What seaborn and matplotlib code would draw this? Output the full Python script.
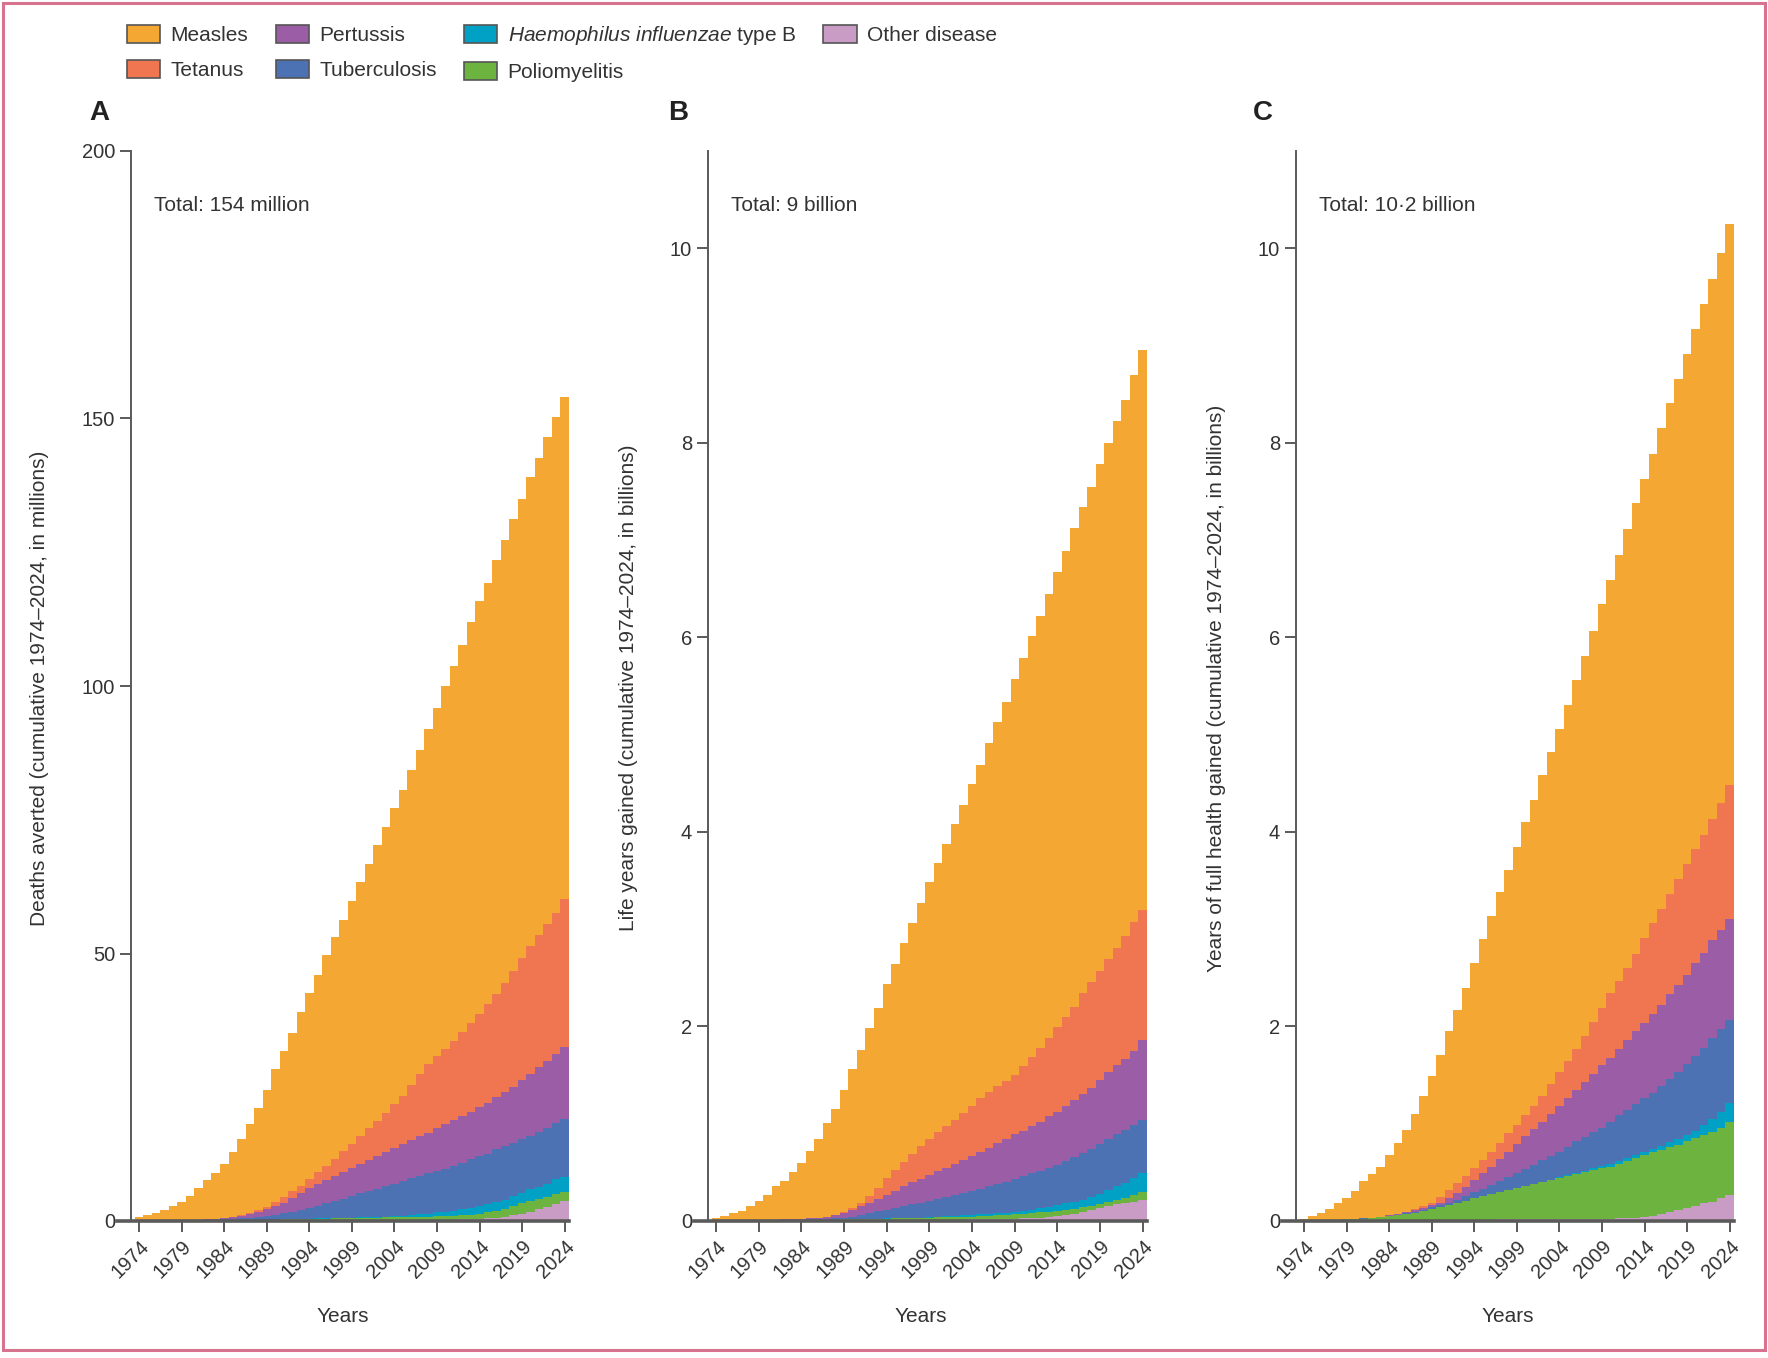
import numpy as np
import pandas as pd
import matplotlib
matplotlib.use("Agg")
import matplotlib.pyplot as plt
from matplotlib.patches import Patch, Rectangle
import seaborn as sns

# ===========================================================
# Data (upper edge of each coloured band,
# bottom band first), years 1974-2024
# ===========================================================

years = list(range(1974, 2025))

diseases = ["Measles", "Tetanus", "Pertussis", "Tuberculosis",
            "Haemophilus influenzae type B", "Poliomyelitis", "Other disease"]
colors = ["#F5A733", "#F07551", "#9B5EA6", "#4C72B3",
          "#00A1C5", "#6CB33F", "#C89CC5"]

# --- A: deaths averted, millions
other_top_a = [0.0, 0.0, 0.0, 0.0, 0.01, 0.01, 0.02, 0.02, 0.03, 0.03,
               0.04, 0.04, 0.05, 0.05, 0.06, 0.06, 0.07, 0.07, 0.08, 0.08,
               0.09, 0.09, 0.1, 0.1, 0.11, 0.11, 0.12, 0.12, 0.13, 0.14,
               0.15, 0.16, 0.17, 0.18, 0.19, 0.2, 0.22, 0.25, 0.3, 0.35,
               0.4, 0.5, 0.6, 0.8, 1.1, 1.4, 1.7, 2.2, 2.7, 3.1,
               3.7]
polio_top_a = [0.0, 0.0, 0.01, 0.02, 0.04, 0.05, 0.06, 0.08, 0.1, 0.12,
               0.14, 0.16, 0.18, 0.2, 0.22, 0.25, 0.28, 0.31, 0.34, 0.37,
               0.4, 0.43, 0.46, 0.49, 0.52, 0.55, 0.58, 0.6, 0.63, 0.66,
               0.69, 0.72, 0.75, 0.78, 0.82, 0.86, 0.9, 0.95, 1.05, 1.2,
               1.4, 1.6, 1.9, 2.3, 2.8, 3.3, 3.7, 4.2, 4.5, 5.0,
               5.5]
hib_top_a = [0.0, 0.0, 0.01, 0.02, 0.04, 0.05, 0.06, 0.08, 0.1, 0.12,
             0.14, 0.16, 0.18, 0.2, 0.22, 0.25, 0.28, 0.31, 0.35, 0.39,
             0.43, 0.47, 0.51, 0.55, 0.59, 0.63, 0.67, 0.71, 0.75, 0.8,
             0.85, 0.95, 1.1, 1.25, 1.4, 1.6, 1.75, 1.95, 2.2, 2.5,
             2.8, 3.2, 3.6, 4.0, 4.7, 5.3, 5.9, 6.4, 6.9, 7.8,
             8.3]
tb_top_a = [0.0, 0.0, 0.03, 0.05, 0.08, 0.1, 0.12, 0.15, 0.2, 0.25,
            0.3, 0.4, 0.5, 0.65, 0.8, 1.0, 1.2, 1.5, 1.7, 2.0,
            2.4, 2.8, 3.3, 3.7, 4.2, 4.7, 5.2, 5.6, 6.0, 6.5,
            7.0, 7.5, 8.0, 8.4, 8.9, 9.3, 9.8, 10.3, 10.9, 11.5,
            12.1, 12.6, 13.4, 14.0, 14.6, 15.3, 15.9, 16.7, 17.4, 18.3,
            19.0]
pert_top_a = [0.0, 0.0, 0.05, 0.1, 0.1, 0.15, 0.2, 0.25, 0.3, 0.4,
              0.55, 0.75, 1.0, 1.3, 1.7, 2.2, 2.8, 3.4, 4.3, 5.2,
              6.1, 6.9, 7.6, 8.4, 9.2, 10.0, 10.7, 11.4, 12.1, 12.9,
              13.6, 14.3, 15.1, 15.9, 16.5, 17.3, 18.1, 18.9, 19.6, 20.4,
              21.4, 22.1, 23.2, 24.1, 25.1, 26.4, 27.4, 28.7, 29.9, 31.2,
              32.5]
tet_top_a = [0.0, 0.0, 0.05, 0.1, 0.1, 0.15, 0.2, 0.25, 0.3, 0.4,
             0.6, 0.8, 1.1, 1.5, 2.0, 2.7, 3.6, 4.5, 5.6, 6.5,
             7.8, 9.2, 10.3, 11.5, 13.1, 14.3, 15.9, 17.3, 18.7, 20.2,
             21.8, 23.4, 25.5, 27.4, 29.3, 30.8, 32.1, 33.6, 35.4, 37.1,
             38.6, 40.5, 42.5, 44.5, 46.8, 49.1, 51.4, 53.4, 55.5, 57.6,
             60.2]
total_a = [0.7, 1.1, 1.5, 2.0, 2.8, 3.6, 4.7, 6.1, 7.6, 9.0,
           10.6, 12.9, 15.3, 18.1, 21.1, 24.5, 28.4, 31.8, 35.2, 39.1,
           42.6, 46.0, 49.7, 53.1, 56.3, 59.9, 63.3, 66.7, 70.2, 73.7,
           77.2, 80.6, 84.3, 88.1, 92.0, 95.8, 100.0, 103.8, 107.7, 111.9,
           115.9, 119.3, 123.5, 127.3, 131.2, 135.0, 139.0, 142.6, 146.5, 150.3,
           154.0]

# --- B: life years gained, billions
other_top_b = [0.0, 0.0, 0.0, 0.0, 0.0, 0.001, 0.001, 0.002, 0.002, 0.003,
               0.003, 0.004, 0.004, 0.005, 0.005, 0.006, 0.006, 0.007, 0.007, 0.008,
               0.008, 0.009, 0.009, 0.01, 0.01, 0.011, 0.012, 0.013, 0.014, 0.015,
               0.016, 0.017, 0.018, 0.019, 0.02, 0.023, 0.026, 0.03, 0.035, 0.04,
               0.05, 0.06, 0.075, 0.09, 0.11, 0.13, 0.15, 0.17, 0.18, 0.2,
               0.22]
polio_top_b = [0.0, 0.0, 0.0, 0.0, 0.0, 0.003, 0.004, 0.005, 0.006, 0.007,
               0.008, 0.009, 0.01, 0.012, 0.014, 0.016, 0.018, 0.02, 0.022, 0.024,
               0.025, 0.027, 0.029, 0.031, 0.033, 0.035, 0.037, 0.039, 0.041, 0.043,
               0.045, 0.05, 0.055, 0.06, 0.065, 0.07, 0.075, 0.08, 0.088, 0.095,
               0.1, 0.11, 0.125, 0.14, 0.155, 0.175, 0.195, 0.215, 0.24, 0.27,
               0.3]
hib_top_b = [0.0, 0.0, 0.0, 0.0, 0.0, 0.003, 0.004, 0.005, 0.006, 0.007,
             0.008, 0.009, 0.01, 0.012, 0.014, 0.016, 0.018, 0.02, 0.022, 0.024,
             0.026, 0.028, 0.03, 0.032, 0.035, 0.04, 0.044, 0.048, 0.052, 0.058,
             0.065, 0.07, 0.075, 0.08, 0.085, 0.095, 0.105, 0.115, 0.13, 0.145,
             0.16, 0.18, 0.2, 0.22, 0.25, 0.28, 0.32, 0.36, 0.39, 0.44,
             0.49]
tb_top_b = [0.0, 0.0, 0.0, 0.0, 0.0, 0.005, 0.005, 0.01, 0.01, 0.01,
            0.015, 0.02, 0.02, 0.025, 0.03, 0.035, 0.045, 0.06, 0.08, 0.1,
            0.11, 0.13, 0.15, 0.17, 0.19, 0.21, 0.23, 0.25, 0.27, 0.29,
            0.31, 0.33, 0.36, 0.38, 0.4, 0.43, 0.46, 0.49, 0.51, 0.55,
            0.58, 0.62, 0.66, 0.7, 0.74, 0.79, 0.84, 0.89, 0.94, 0.99,
            1.04]
pert_top_b = [0.0, 0.0, 0.0, 0.0, 0.0, 0.01, 0.01, 0.01, 0.02, 0.02,
              0.02, 0.03, 0.03, 0.04, 0.06, 0.08, 0.11, 0.15, 0.19, 0.23,
              0.27, 0.31, 0.36, 0.4, 0.43, 0.47, 0.51, 0.55, 0.59, 0.63,
              0.67, 0.71, 0.75, 0.8, 0.84, 0.89, 0.93, 0.98, 1.02, 1.08,
              1.12, 1.18, 1.24, 1.31, 1.37, 1.45, 1.53, 1.6, 1.67, 1.75,
              1.86]
tet_top_b = [0.0, 0.0, 0.0, 0.0, 0.0, 0.01, 0.01, 0.01, 0.02, 0.02,
             0.02, 0.03, 0.03, 0.04, 0.06, 0.09, 0.13, 0.18, 0.26, 0.34,
             0.44, 0.52, 0.61, 0.69, 0.77, 0.84, 0.91, 0.98, 1.04, 1.11,
             1.18, 1.26, 1.33, 1.39, 1.44, 1.5, 1.59, 1.69, 1.78, 1.88,
             1.99, 2.1, 2.2, 2.34, 2.46, 2.57, 2.69, 2.81, 2.93, 3.07,
             3.2]
total_b = [0.03, 0.05, 0.08, 0.1, 0.15, 0.21, 0.27, 0.36, 0.41, 0.5,
           0.6, 0.72, 0.84, 1.01, 1.15, 1.35, 1.56, 1.76, 1.98, 2.19,
           2.44, 2.64, 2.86, 3.06, 3.27, 3.49, 3.68, 3.88, 4.08, 4.28,
           4.49, 4.69, 4.91, 5.13, 5.34, 5.57, 5.79, 6.01, 6.22, 6.45,
           6.67, 6.89, 7.12, 7.34, 7.55, 7.78, 8.0, 8.22, 8.44, 8.7,
           8.95]

# --- C: years of full health gained, billions
other_top_c = [0.0, 0.0, 0.0, 0.002, 0.003, 0.004, 0.005, 0.006, 0.007, 0.008,
               0.009, 0.01, 0.01, 0.011, 0.011, 0.012, 0.012, 0.013, 0.013, 0.014,
               0.014, 0.015, 0.015, 0.016, 0.016, 0.017, 0.017, 0.018, 0.018, 0.019,
               0.019, 0.02, 0.02, 0.021, 0.022, 0.023, 0.024, 0.026, 0.03, 0.035,
               0.04, 0.05, 0.07, 0.09, 0.11, 0.13, 0.15, 0.18, 0.2, 0.24,
               0.27]
polio_top_c = [0.0, 0.0, 0.005, 0.01, 0.01, 0.02, 0.02, 0.025, 0.03, 0.04,
               0.05, 0.06, 0.07, 0.08, 0.1, 0.12, 0.14, 0.16, 0.18, 0.21,
               0.24, 0.26, 0.28, 0.3, 0.32, 0.34, 0.36, 0.38, 0.4, 0.42,
               0.44, 0.46, 0.48, 0.5, 0.52, 0.54, 0.56, 0.59, 0.62, 0.65,
               0.68, 0.71, 0.73, 0.76, 0.78, 0.82, 0.85, 0.88, 0.92, 0.96,
               1.02]
hib_top_c = [0.0, 0.0, 0.005, 0.01, 0.01, 0.02, 0.02, 0.025, 0.03, 0.04,
             0.05, 0.06, 0.07, 0.08, 0.1, 0.12, 0.14, 0.16, 0.18, 0.21,
             0.24, 0.26, 0.28, 0.3, 0.32, 0.34, 0.36, 0.38, 0.4, 0.425,
             0.45, 0.47, 0.49, 0.515, 0.54, 0.565, 0.59, 0.62, 0.65, 0.68,
             0.71, 0.745, 0.775, 0.81, 0.84, 0.88, 0.93, 0.99, 1.05, 1.12,
             1.21]
tb_top_c = [0.0, 0.0, 0.005, 0.01, 0.015, 0.02, 0.025, 0.03, 0.035, 0.045,
            0.055, 0.065, 0.08, 0.095, 0.115, 0.14, 0.165, 0.19, 0.22, 0.26,
            0.3, 0.33, 0.37, 0.41, 0.45, 0.49, 0.53, 0.58, 0.63, 0.67,
            0.71, 0.76, 0.82, 0.86, 0.92, 0.96, 1.02, 1.09, 1.14, 1.2,
            1.26, 1.32, 1.39, 1.46, 1.53, 1.61, 1.7, 1.78, 1.88, 1.97,
            2.07]
pert_top_c = [0.0, 0.0, 0.005, 0.01, 0.015, 0.02, 0.025, 0.03, 0.035, 0.045,
              0.06, 0.07, 0.09, 0.11, 0.13, 0.16, 0.19, 0.24, 0.29, 0.35,
              0.42, 0.49, 0.56, 0.64, 0.71, 0.79, 0.87, 0.95, 1.02, 1.1,
              1.18, 1.26, 1.35, 1.43, 1.51, 1.6, 1.68, 1.77, 1.86, 1.95,
              2.04, 2.13, 2.22, 2.33, 2.43, 2.53, 2.65, 2.76, 2.89, 2.99,
              3.1]
tet_top_c = [0.0, 0.0, 0.005, 0.01, 0.015, 0.02, 0.025, 0.03, 0.035, 0.045,
             0.06, 0.07, 0.09, 0.12, 0.15, 0.19, 0.25, 0.32, 0.39, 0.46,
             0.54, 0.63, 0.71, 0.8, 0.9, 0.99, 1.09, 1.18, 1.29, 1.41,
             1.53, 1.65, 1.77, 1.9, 2.05, 2.19, 2.34, 2.47, 2.6, 2.75,
             2.91, 3.06, 3.21, 3.36, 3.52, 3.67, 3.82, 3.97, 4.13, 4.3,
             4.48]
total_c = [0.02, 0.05, 0.08, 0.12, 0.18, 0.24, 0.31, 0.41, 0.48, 0.56,
           0.68, 0.8, 0.94, 1.1, 1.28, 1.49, 1.71, 1.95, 2.17, 2.4,
           2.65, 2.9, 3.14, 3.38, 3.61, 3.85, 4.1, 4.33, 4.59, 4.82,
           5.06, 5.3, 5.56, 5.81, 6.07, 6.34, 6.59, 6.85, 7.11, 7.38,
           7.63, 7.88, 8.15, 8.41, 8.66, 8.91, 9.17, 9.43, 9.68, 9.95,
           10.25]

panel_letters = ["A", "B", "C"]
totals = ["Total: 154 million", "Total: 9 billion", "Total: 10\u00b72 billion"]
ylabels = ["Deaths averted (cumulative 1974\u20132024, in millions)",
           "Life years gained (cumulative 1974\u20132024, in billions)",
           "Years of full health gained (cumulative 1974\u20132024, in billions)"]
xticks = list(range(1974, 2025, 5))


def panel_frame(tops):
    # tops go bottom band first: Other disease ... Measles
    rows = []
    below = np.zeros(len(years))
    for name, top in zip(diseases[::-1], tops):
        top = np.asarray(top, dtype=float)
        rows.append(pd.DataFrame({"year": years, "disease": name,
                                  "value": top - below}))
        below = top
    return pd.concat(rows, ignore_index=True)


frames = [
    panel_frame([other_top_a, polio_top_a, hib_top_a, tb_top_a,
                 pert_top_a, tet_top_a, total_a]),
    panel_frame([other_top_b, polio_top_b, hib_top_b, tb_top_b,
                 pert_top_b, tet_top_b, total_b]),
    panel_frame([other_top_c, polio_top_c, hib_top_c, tb_top_c,
                 pert_top_c, tet_top_c, total_c]),
]

# ===========================================================
# Style
# ===========================================================

sns.set_theme(style="ticks")
FONT = "Liberation Sans"
plt.rcParams["font.family"] = [FONT, "DejaVu Sans"]
plt.rcParams["mathtext.fontset"] = "custom"
plt.rcParams["mathtext.rm"] = FONT
plt.rcParams["mathtext.it"] = FONT + ":italic"

TXT = "#333333"
AX = "#5a5a5a"
palette = dict(zip(diseases, colors))

W, H = 1768, 1358
fig = plt.figure(figsize=(W / 100, H / 100), dpi=100)

# axes boxes in pixels: left end of the x-axis line, right end
boxes = [(117, 569), (694, 1147), (1282, 1734)]
ylims = [(0, 200), (0, 11), (0, 11)]
yticks = [[0, 50, 100, 150, 200], [0, 2, 4, 6, 8, 10], [0, 2, 4, 6, 8, 10]]
ylabel_x = [40, 628, 1216]
letter_x = [99, 678, 1263]
top_px, bot_px = 151, 1221

for i, ax_df in enumerate(frames):
    x0, x1 = boxes[i]
    ax = fig.add_axes([x0 / W, 1 - bot_px / H, (x1 - x0) / W, (bot_px - top_px) / H])

    sns.histplot(
        data=ax_df, x="year", weights="value",
        hue="disease", hue_order=diseases, palette=palette,
        multiple="stack", discrete=True, element="step",
        fill=True, alpha=1, linewidth=0, legend=False, ax=ax
    )

    ax.set_xlim(1971.4, 2024.5)
    ax.set_ylim(*ylims[i])
    ax.set_xticks(xticks)
    ax.set_yticks(yticks[i])
    ax.set_xlabel("")
    ax.set_ylabel("")

    sns.despine(ax=ax)
    ax.spines["left"].set_position(("data", 1973.05))
    ax.spines["left"].set_color(AX)
    ax.spines["left"].set_linewidth(1.4)
    ax.spines["bottom"].set_color(AX)
    ax.spines["bottom"].set_linewidth(2.6)
    ax.spines["bottom"].set_zorder(5)

    ax.tick_params(axis="both", colors=AX, labelcolor=TXT, labelsize=14.5,
                   length=8, width=1.4, direction="out")
    for lab in ax.get_xticklabels():
        lab.set_rotation(45)
        lab.set_ha("right")
        lab.set_rotation_mode("anchor")

    ax.text(0.082, 0.9495, totals[i], transform=ax.transAxes,
            ha="left", va="center", fontsize=15, color=TXT)

    fig.text(ylabel_x[i] / W, 1 - 688 / H, ylabels[i], rotation=90,
             ha="center", va="center", fontsize=15, color=TXT)
    fig.text((x0 + x1) / 2 / W, 1 - 1317 / H, "Years",
             ha="center", va="center", fontsize=15, color=TXT)
    fig.text(letter_x[i] / W, 1 - 113 / H, panel_letters[i],
             ha="center", va="center", fontsize=20, fontweight="bold", color="#222222")

# ===========================================================
# Legend
# ===========================================================

labels = [d if d != "Haemophilus influenzae type B"
          else r"$\it{Haemophilus\ influenzae}$ type B" for d in diseases]
handles = [Patch(facecolor=c, edgecolor="#555555", linewidth=1.2) for c in colors]
fig.legend(handles, labels, ncol=4, loc="upper left",
           bbox_to_anchor=(127 / W, 1 - 24 / H), frameon=False,
           fontsize=15, labelcolor=TXT, handlelength=1.6, handleheight=1.0,
           handletextpad=0.5, columnspacing=1.3, labelspacing=0.7,
           borderpad=0, borderaxespad=0)

# pink frame round the figure
fig.patches.append(Rectangle((3 / W, 1 - 1350 / H), 1762 / W, 1347 / H,
                             transform=fig.transFigure, fill=False,
                             edgecolor="#d7728f", linewidth=2.2))

plt.savefig("out.png", dpi=100)
